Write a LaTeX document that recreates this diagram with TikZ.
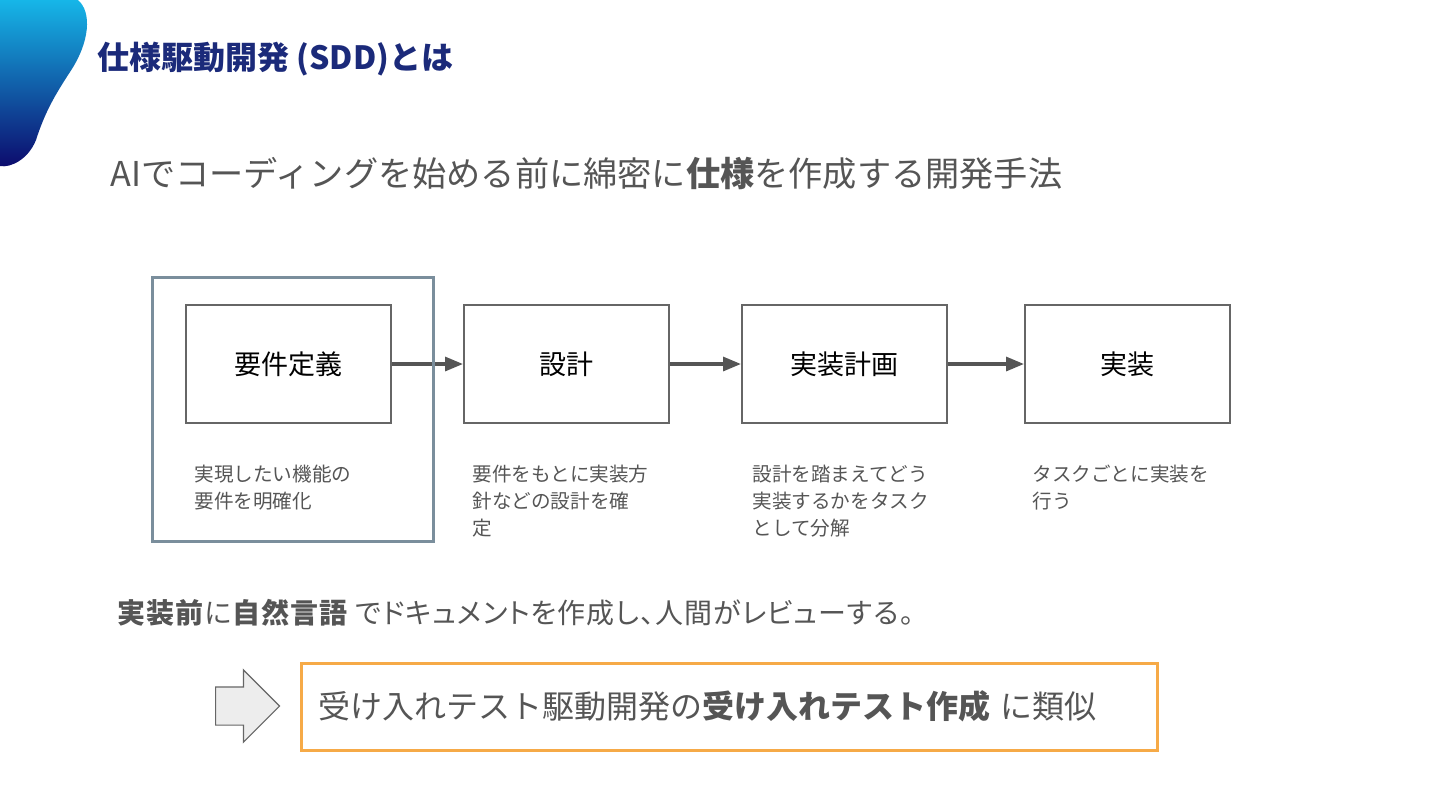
\documentclass[tikz,border=0pt]{standalone}
\usepackage{fontspec}
\setmainfont{Noto Sans CJK JP}
\newfontfamily\paltfont{Noto Sans CJK JP}[RawFeature={+palt}, LetterSpace=3.5]
\usepackage{tikz}
\usetikzlibrary{arrows.meta, positioning, shapes.arrows}

\definecolor{navy}{HTML}{1B2A7A}
\definecolor{blobtop}{HTML}{16B6E8}
\definecolor{blobbot}{HTML}{0C0A6C}
\definecolor{textgray}{HTML}{555555}
\definecolor{linegray}{HTML}{666666}
\definecolor{framegray}{HTML}{7A8E9C}
\definecolor{accorange}{HTML}{F6AA47}

\begin{document}
\begin{tikzpicture}[
    x=0.5pt, y=-0.5pt,
    step box/.style={rectangle, draw=linegray, line width=1pt,
                minimum width=102.5pt, minimum height=59pt,
                font=\fontsize{13.5}{15}\selectfont},
    desc/.style={inner sep=0pt, align=left, text=textgray,
                font=\fontsize{9.8}{13.5}\selectfont},
    arrow/.style={-{Triangle[length=9pt, width=7pt]}, line width=1.6pt, draw=textgray}
]
    \useasboundingbox (0,0) rectangle (1440,810);

    % corner mark
    \shade[top color=blobtop, bottom color=blobbot]
        (0,0) -- (78,0) .. controls (92,12) and (90,42) .. (70,72)
        .. controls (55,95) and (45,112) .. (36,140)
        .. controls (28,160) and (10,168) .. (0,166) -- cycle;

    \node[anchor=west, inner sep=0pt, text=navy,
          font=\fontsize{16}{18}\selectfont\bfseries] (title) at (97,59)
        {仕様駆動開発 (SDD)とは};
    \node[anchor=west, inner sep=0pt, text=textgray,
          font=\fontsize{17.1}{20}\selectfont] (lead) at (110,173)
        {AIでコーディングを始める前に綿密に\textbf{仕様}を作成する開発手法};

    % steps
    \node[step box] (req) at (288.5,364) {要件定義};
    \node[step box, right=35.5pt of req] (design) {設計};
    \node[step box, right=35.5pt of design] (plan) {実装計画};
    \node[step box, right=38pt of plan] (impl) {実装};

    \draw[arrow] (req) -- (design);
    \draw[arrow] (design) -- (plan);
    \draw[arrow] (plan) -- (impl);

    \node[desc, below right=20.5pt and 4.5pt of req.south west] (reqtxt)
        {実現したい機能の\\要件を明確化};
    \node[desc, below right=20.5pt and 4.5pt of design.south west] (designtxt)
        {要件をもとに実装方\\針などの設計を確\\定};
    \node[desc, below right=20.5pt and 5.5pt of plan.south west] (plantxt)
        {設計を踏まえてどう\\実装するかをタスク\\として分解};
    \node[desc, below right=20.5pt and 4pt of impl.south west] (impltxt)
        {タスクごとに実装を\\行う};

    % highlight of the first step
    \draw[draw=framegray, line width=1.5pt] (152,277) rectangle (433,541);

    \node[anchor=west, inner sep=0pt, text=textgray,
          font=\paltfont\fontsize{14}{16}\selectfont] (note) at (117,613)
        {\textbf{実装前}に\textbf{自然言語} でドキュメントを作成し、人間がレビューする。};

    \node[single arrow, draw=linegray, fill=black!7, line width=0.6pt,
          inner xsep=0pt, inner ysep=9.25pt, minimum height=32pt, anchor=west,
          single arrow head extend=8.5pt, single arrow head indent=0pt] (bigarrow) at (215,706) {};

    \node[rectangle, draw=accorange, line width=1.5pt, minimum width=428pt,
          minimum height=43.5pt, inner xsep=8.5pt, text width=411pt, align=left,
          text=textgray, font=\fontsize{16}{18}\selectfont] (similar) at (729,706.5)
        {受け入れテスト駆動開発の\textbf{受け入れテスト作成} に類似};
\end{tikzpicture}
\end{document}
